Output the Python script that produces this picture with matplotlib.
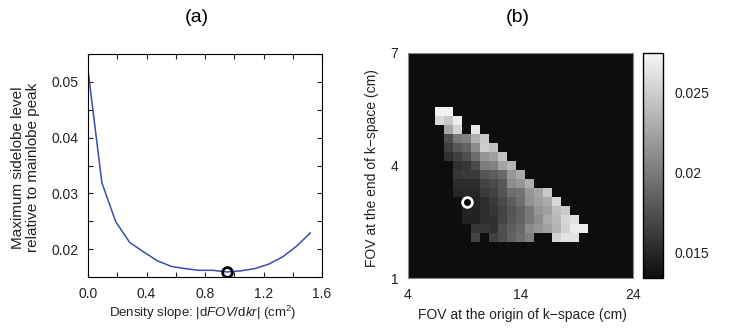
import numpy as np
import matplotlib
matplotlib.use("Agg")
import matplotlib.pyplot as plt
from matplotlib.colors import LinearSegmentedColormap
from matplotlib.ticker import FuncFormatter

plt.rcParams['font.family'] = ['Liberation Sans', 'DejaVu Sans']
plt.rcParams['mathtext.fontset'] = 'custom'
plt.rcParams['mathtext.rm'] = 'Liberation Sans'
plt.rcParams['mathtext.it'] = 'Liberation Sans:italic'

# (a) max sidelobe level vs density slope
slope = [0.0, 0.095, 0.19, 0.285, 0.38, 0.475, 0.57, 0.665, 0.76,
         0.855, 0.95, 1.045, 1.14, 1.235, 1.33, 1.425, 1.52]
sidelobe = [0.0521, 0.0319, 0.0249, 0.0212, 0.0195, 0.0179, 0.0169, 0.0165, 0.0162,
            0.0162, 0.0159, 0.0161, 0.0165, 0.0173, 0.0186, 0.0205, 0.0229]
best_slope = 0.95
best_sidelobe = 0.0159

# (b) max sidelobe level (x1e-3) on a 25x25 FOV grid, rows listed top to bottom
n_cells = 25
first_row = 6
first_col = 3
N = None
grid_rows = [
    [27.2, 27.2],
    [25.7, 24.8, 26.9],
    [N, 22.6, 25.4, N, 26.6],
    [N, 17.4, 19.9, 20.5, 23.2, 24.8],
    [N, 16.5, 18.0, 18.6, 21.1, 25.1, 24.4],
    [N, 15.6, 16.5, 17.4, 19.3, 21.7, 22.3, 24.4],
    [N, N, 15.6, 15.9, 17.1, 20.2, 20.5, 22.6, 23.5],
    [N, N, 15.9, 16.2, 16.2, 17.7, 18.3, 19.0, 21.7, 22.9],
    [N, N, 15.3, 15.3, 15.3, 16.8, 17.1, 18.0, 21.1, 21.7, 23.2],
    [N, N, 15.0, 15.0, 15.0, 16.2, 16.5, 17.7, 19.3, 19.6, 21.7, 22.6, 24.8],
    [N, N, N, 14.7, 14.7, 15.3, 16.2, 17.1, 18.3, 19.3, 21.4, 22.3, 22.9, 25.7],
    [N, N, N, 14.7, 14.7, 15.3, 15.9, 16.8, 17.7, 18.6, 19.9, 21.7, 22.3, 24.1, 24.8],
    [N, N, N, 14.7, 14.7, 15.3, 15.6, 16.8, 18.0, 18.6, 19.9, 21.1, 22.9, 23.8, 25.7, 26.3],
    [N, N, N, N, 15.9, 15.9, 15.6, 17.4, 18.3, 19.0, 21.1, 21.7, 22.3, 23.5, 25.4, 26.9, 26.9],
    [N, N, N, N, 16.8, N, 16.5, 17.4, 18.6, 19.3, 20.5, N, N, 25.4, 26.3, 26.3],
]
fov_origin_lim = (4, 24)
fov_end_lim = (1, 7)
best_origin = 9.2
best_end = 3.04
cbar_ticks = [0.015, 0.02, 0.025]
vmin, vmax = 0.0134, 0.0275

fig = plt.figure(figsize=(7.38, 3.28), dpi=100)

# ---- panel (a)
ax = fig.add_axes([88/738, 51/328, 234/738, 223/328])
ax.plot(slope, sidelobe, color='#3b4cb0', lw=1.1)
ax.plot(best_slope, best_sidelobe, 'o', mfc='none', mec='black', mew=2, ms=7)
ax.set_xlim(0, 1.6)
ax.set_ylim(0.015, 0.055)
ax.set_xticks(np.arange(0, 1.61, 0.2))
ax.set_yticks(np.arange(0.015, 0.0551, 0.005))
ax.xaxis.set_major_formatter(FuncFormatter(
    lambda v, p: f'{v:.1f}' if abs(v / 0.4 - round(v / 0.4)) < 1e-6 else ''))
ax.yaxis.set_major_formatter(FuncFormatter(
    lambda v, p: f'{v:.2f}' if abs(v / 0.01 - round(v / 0.01)) < 1e-6 else ''))
ax.tick_params(direction='in', length=3.5, width=0.8, top=True, right=True,
               labelsize=10, pad=7, colors='#222222')
for s in ax.spines.values():
    s.set_linewidth(0.8)
ax.set_ylabel('Maximum sidelobe level\nrelative to mainlobe peak', fontsize=11,
              linespacing=1.05, color='#222222')
ax.yaxis.set_label_coords(-0.268, 0.49)
ax.yaxis.label.set_va('center')
ax.set_xlabel(r'Density slope: |d$\it{FOV}$/d$\it{kr}$| (cm$^2$)', fontsize=9.5,
              color='#222222')
ax.xaxis.set_label_coords(0.49, -0.16)
ax.xaxis.label.set_va('center')
fig.text(197/738, 1 - 17/328, '(a)', fontsize=14, ha='center', va='center')

# ---- panel (b)
arr = np.full((n_cells, n_cells), np.nan)
for i, row in enumerate(grid_rows):
    for j, v in enumerate(row):
        if v is not None:
            arr[first_row + i, first_col + j] = v * 1e-3

cmap = LinearSegmentedColormap.from_list('g', ['#0d0d0d', '#f6f6f6'])
cmap.set_bad('#0d0d0d')
bx = fig.add_axes([408/738, 50/328, 225/738, 225/328])
im = bx.imshow(arr, cmap=cmap, vmin=vmin, vmax=vmax, aspect='auto',
               interpolation='nearest',
               extent=[fov_origin_lim[0], fov_origin_lim[1], fov_end_lim[0], fov_end_lim[1]])
bx.plot(best_origin, best_end, 'o', mfc='black', mec='white', mew=2, ms=7)
bx.set_xticks([4, 14, 24])
bx.set_yticks([1, 4, 7])
bx.tick_params(length=0, labelsize=10, pad=7, colors='#222222')
for s in bx.spines.values():
    s.set_color('#888888')
    s.set_linewidth(0.8)
bx.set_xlabel('FOV at the origin of k\u2212space (cm)', fontsize=10, color='#222222')
bx.xaxis.set_label_coords((522 - 408) / 225, (278 - 315) / 225)
bx.xaxis.label.set_va('center')
bx.set_ylabel('FOV at the end of k\u2212space (cm)', fontsize=10, color='#222222')
bx.yaxis.set_label_coords((372 - 408) / 225, 0.49)
bx.yaxis.label.set_va('center')
fig.text(518/738, 1 - 17/328, '(b)', fontsize=14, ha='center', va='center')

cax = fig.add_axes([643/738, 50/328, 20/738, 225/328])
cb = fig.colorbar(im, cax=cax, ticks=cbar_ticks)
cb.ax.set_yticklabels(['0.015', '0.02', '0.025'])
cb.ax.tick_params(length=0, labelsize=10, pad=8, colors='#222222')
cb.outline.set_linewidth(1.0)

fig.savefig('out.png', dpi=100)
